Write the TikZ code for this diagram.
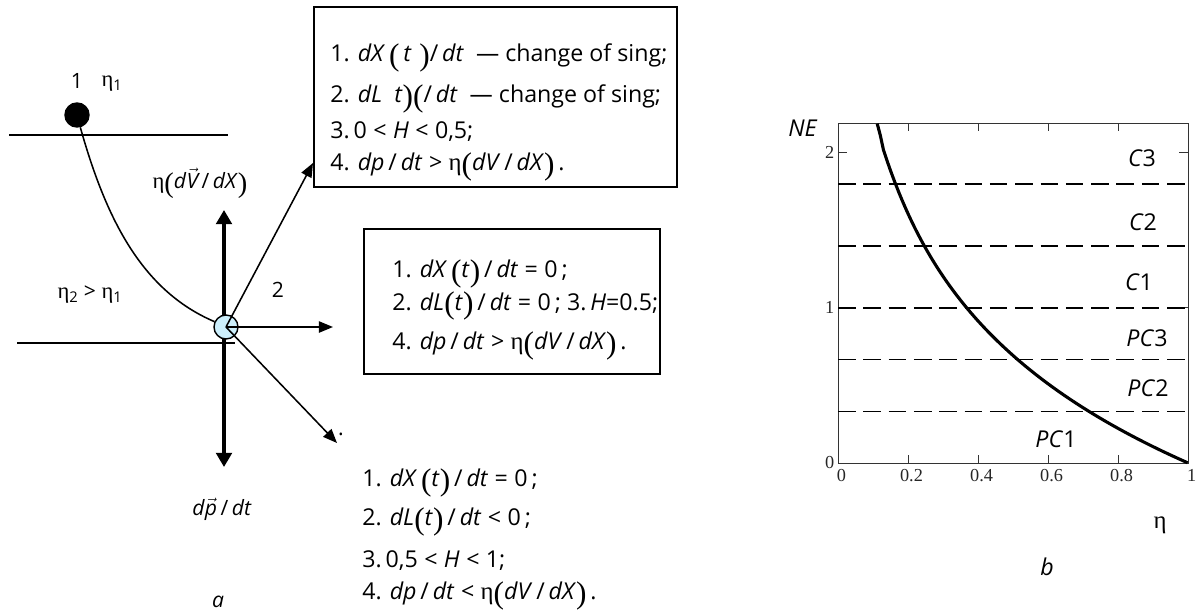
\documentclass[tikz,border=0pt]{standalone}
\usepackage{fontspec}
\setmainfont{Open Sans}
\newfontfamily\grk{Liberation Serif}
\usetikzlibrary{arrows.meta,positioning}
\newcommand{\et}{{\grk\fontsize{1.07em}{1em}\selectfont η}}
\newcommand{\lb}{\smash{\raisebox{-0.17em}{\grk\fontsize{1.35em}{1em}\selectfont(}}}
\newcommand{\rb}{\smash{\raisebox{-0.17em}{\grk\fontsize{1.35em}{1em}\selectfont)}}}
\newcommand{\vv}[1]{$\vec{\textit{#1}}$}
\newcommand{\ti}[1]{\textit{#1}}

\begin{document}
\begin{tikzpicture}[
    x=0.025cm, y=-0.025cm,
    txt/.style    = {font=\fontsize{15}{15}\selectfont, inner sep=0pt},
    lbl/.style    = {font=\fontsize{16.5}{16.5}\selectfont, inner sep=0pt},
    lst/.style    = {lbl, align=left, anchor=west},
    box/.style    = {draw, line width=1.4pt, inner sep=0pt},
    thin/.style   = {line width=1.1pt},
    arr/.style    = {-{Triangle[length=10pt, width=8pt]}, line width=1.1pt},
    bigarr/.style = {{Triangle[length=10pt, width=11pt]}-{Triangle[length=10pt, width=11pt]},
                     line width=2.8pt},
    ball/.style   = {circle, draw, line width=1pt, minimum size=0.6cm, inner sep=0pt},
    frame/.style  = {line width=0.7pt, black!80},
    dsh/.style    = {line width=1.2pt, dash pattern=on 12.5pt off 5.5pt},
    nec/.style    = {line width=2.2pt},
    tk/.style     = {font=\grk\fontsize{13}{13}\selectfont, inner sep=0pt, black!85},
  ]
  \useasboundingbox (0,0) rectangle (1197,612);

  % part a
  \draw[thin] (9,135) -- (228,135);
  \draw[thin] (17,343) -- (235,343);
  \coordinate (vt) at (224,210);
  \coordinate (vb) at (224,467);
  \draw[bigarr] (vt) -- (vb);

  \node[ball, fill=black]    (m1) at (77,115)  {};
  \node[ball, fill=cyan!20]  (m2) at (226,327) {};
  \draw[thin] (m1.-75) .. controls (105,215) and (140,290) .. (m2.155);

  \coordinate (e1) at (313,163);
  \coordinate (e2) at (333,327);
  \coordinate (e3) at (337,443);
  \draw[arr] (m2.center) -- (e1);
  \draw[arr] (m2.center) -- (e2);
  \draw[arr] (m2.center) -- (e3);

  \node[txt] (n1)   at (77,81)   {1};
  \node[txt] (eta1) at (112,84)  {\et\textsubscript{1}};
  \node[txt] (eta2) at (90,295)  {\et\textsubscript{2} > \et\textsubscript{1}};
  \node[txt] (n2)   at (278,290) {2};
  \node[txt] (dvdx) at (200,181) {\et\lb\ti{d}\vv{V}\,/\,\ti{dX}\rb};
  \node[txt] (dpdt) at (222,509) {\ti{d}\vv{p}\,/\,\ti{dt}};
  \node[txt] (capa) at (218,602) {\ti{a}};
  \node[txt] (dot3) at (341,434) {.};

  \node[box, minimum width=9.075cm, minimum height=4.5cm] (box1) at (495.5,97) {};
  \node[lst] (txt1) at (330,110)
    {1. \ti{dX}\,\lb\,\ti{t}\,\,\rb/\,\ti{dt}\ \ — change of sing;\\[11.5pt]
     2. \ti{dL}\ \ \ti{t}\rb\lb/\,\ti{dt}\ \ — change of sing;\\[9.3pt]
     3.\,0\;<\;\ti{H}\;<\;0,5;\\[6.5pt]
     4. \ti{dp}\,/\,\ti{dt}\;>\;\et\lb\ti{dV}\,/\,\ti{dX}\rb\,.};

  \node[box, minimum width=7.4cm, minimum height=3.625cm] (box2) at (512,301.5) {};
  \node[lst] (txt2) at (392,307.5)
    {1. \ti{dX}\,\lb\ti{t}\rb\,/\,\ti{dt}\;=\;0\,;\\[6.5pt]
     2. \ti{dL}\lb\ti{t}\rb\,/\,\ti{dt}\;=\;0\,; 3.\,\ti{H}=0.5;\\[11.5pt]
     4. \ti{dp}\,/\,\ti{dt}\;>\;\et\lb\ti{dV}\,/\,\ti{dX}\rb\,.};

  \node[lst] (txt3) at (362,537)
    {1. \ti{dX}\,\lb\ti{t}\rb\,/\,\ti{dt}\;=\;0\,;\\[11.5pt]
     2. \ti{dL}\lb\ti{t}\rb\,/\,\ti{dt}\;<\;0\,;\\[12.9pt]
     3.\,0,5\;<\;\ti{H}\;<\;1;\\[6.5pt]
     4. \ti{dp}\,/\,\ti{dt}\;<\;\et\lb\ti{dV}\,/\,\ti{dX}\rb\,.};

  % part b
  \begin{scope}[shift={(838,463)}, x=8.75cm, y=3.875cm]
    \draw[frame] (0,0) rectangle (1,2.19);
    \foreach \t in {0.2,0.4,0.6,0.8} {
      \draw[frame] (\t,0) -- ++(0,0.05);
      \draw[frame] (\t,2.19) -- ++(0,-0.05);
    }
    \foreach \t in {1,2} {
      \draw[frame] (0,\t) -- ++(0.025,0);
      \draw[frame] (1,\t) -- ++(-0.025,0);
    }
    \foreach \t/\l in {0/0,0.2/0.2,0.4/0.4,0.6/0.6,0.8/0.8,1/1}
      \node[tk, anchor=north] at (\t+0.01,-0.04) {\l};
    \foreach \t in {0,1,2}
      \node[tk, anchor=east] at (-0.01,\t) {\t};
    \foreach \h in {0.333,0.667,1,1.4,1.8}
      \draw[dsh] (0,\h) -- (1,\h);
    \draw[nec] plot[domain=0.112:1, samples=100] (\x,{-ln(\x)});
  \end{scope}

  \node[lbl] (ne)  at (803,128)  {\ti{NE}};
  \node[lbl] (c3)  at (1142,158) {\ti{C}3};
  \node[lbl] (c2)  at (1143,222) {\ti{C}2};
  \node[lbl] (c1)  at (1139,282) {\ti{C}1};
  \node[lbl] (pc3) at (1147,338) {\ti{PC}3};
  \node[lbl] (pc2) at (1148,388) {\ti{PC}2};
  \node[lbl] (pc1) at (1056,439) {\ti{PC}1};
  \node[lbl] (eta) at (1160,525) {\et};
  \node[lbl] (capb) at (1047,567) {\ti{b}};
\end{tikzpicture}
\end{document}
